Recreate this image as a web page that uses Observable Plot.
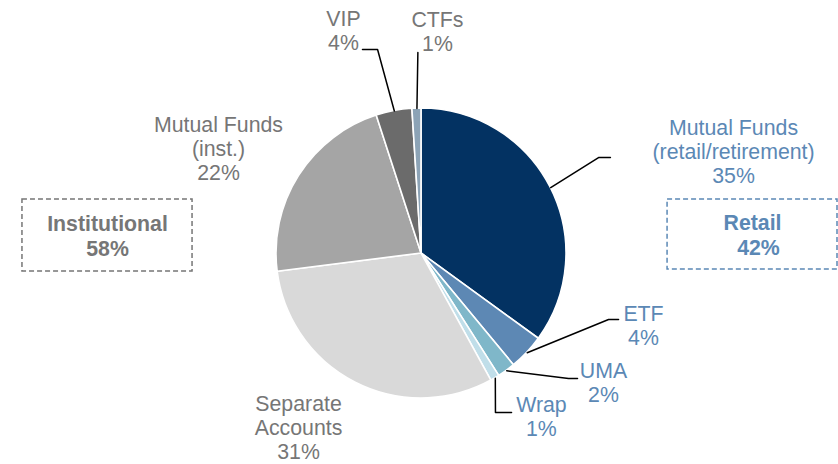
<!DOCTYPE html>
<html>
<head>
<meta charset="utf-8">
<script src="https://cdn.jsdelivr.net/npm/d3@7"></script>
<script src="https://cdn.jsdelivr.net/npm/@observablehq/plot@0.6"></script>
<style>
  html, body { margin: 0; padding: 0; background: #fff; }
  #chart svg { display: block; }
</style>
</head>
<body>
<div id="chart"></div>
<script>
// ---- Data ----
const categories = ["Mutual Funds (retail/retirement)", "ETF", "UMA", "Wrap", "Separate Accounts", "Mutual Funds (inst.)", "VIP", "CTFs"];
const labelLines = ["Mutual Funds\n(retail/retirement)", "ETF", "UMA", "Wrap", "Separate\nAccounts", "Mutual Funds\n(inst.)", "VIP", "CTFs"];
const shares = [35, 4, 2, 1, 31, 22, 4, 1];
const segments = ["Retail", "Retail", "Retail", "Retail", "Institutional", "Institutional", "Institutional", "Institutional"];
const sliceColors = ["#033262", "#5d88b4", "#7fb7c9", "#c0dee9", "#d9d9d9", "#a5a5a5", "#6b6b6b", "#8ca3b6"];
const segmentNames = ["Institutional", "Retail"];
const segmentColors = ["#767676", "#5b88b5"];

// ---- Layout (in pie-radius units, centre of pie = 0,0) ----
const labelPos = [[2.152, 0.703], [1.531, -0.497], [1.255, -0.890], [0.827, -1.124], [-0.848, -1.200], [-1.400, 0.724], [-0.538, 1.538], [0.110, 1.531]];
// leader path after the point on the slice edge (null = no leader)
const leaderPath = [
  [[1.221, 0.662], [1.303, 0.662]],
  [[1.290, -0.455], [1.359, -0.455]],
  [[1.014, -0.862], [1.076, -0.862]],
  [[0.510, -1.097], [0.621, -1.097]],
  null,
  null,
  [[-0.303, 1.407], [-0.407, 1.407]],
  [[-0.025, 1.386]]
];
const boxPos = { Institutional: [-2.752, -1.579, 0.372, -0.124], Retail: [1.697, 2.869, 0.372, -0.110] };

const FONT = "'Liberation Sans', Arial, Helvetica, sans-serif";
const FS = 21.3;

// ---- Derived ----
const arcs = d3.pie().sort(null).value(d => d.share)(
  categories.map((c, i) => ({ category: c, share: shares[i], color: sliceColors[i], segment: segments[i], label: labelLines[i] + "\n" + shares[i] + "%" }))
);
const labels = arcs.map((a, i) => ({ ...a.data, x: labelPos[i][0], y: labelPos[i][1] }));
const leaders = [];
arcs.forEach((a, i) => {
  if (!leaderPath[i]) return;
  const mid = (a.startAngle + a.endAngle) / 2;
  leaders.push({ id: i, x: Math.sin(mid), y: Math.cos(mid) });
  leaderPath[i].forEach(p => leaders.push({ id: i, x: p[0], y: p[1] }));
});
const totals = segmentNames.map((s, i) => ({
  segment: s,
  color: segmentColors[i],
  total: d3.sum(shares.filter((v, j) => segments[j] === s)),
  x1: boxPos[s][0], x2: boxPos[s][1], y1: boxPos[s][2], y2: boxPos[s][3]
}));
totals.forEach(t => {
  t.text = t.segment === "Retail" ? t.segment + "\n\u00a0\u00a0" + t.total + "%" : t.segment + "\n" + t.total + "%";
});

const segColor = s => segmentColors[segmentNames.indexOf(s)];

// pie mark rendered through the plot's x/y scales
const pieMark = (index, scales) => {
  const cx = scales.x(0), cy = scales.y(0);
  const r = scales.x(1) - scales.x(0);
  const g = d3.create("svg:g").attr("transform", `translate(${cx},${cy})`);
  g.selectAll("path").data(arcs).join("path")
    .attr("d", d3.arc().innerRadius(0).outerRadius(r))
    .attr("fill", d => d.data.color)
    .attr("stroke", "#fff")
    .attr("stroke-width", 1.6)
    .attr("stroke-linejoin", "round");
  return g.node();
};

const W = 838, H = 464, R = 145, CX = 421, CY = 253;

const chart = Plot.plot({
  width: W,
  height: H,
  margin: 0,
  style: { fontFamily: FONT, background: "#fff" },
  x: { domain: [-CX / R, (W - CX) / R], axis: null },
  y: { domain: [-(H - CY) / R, CY / R], axis: null },
  marks: [
    pieMark,
    Plot.line(leaders, { x: "x", y: "y", z: "id", stroke: "#000", strokeWidth: 1.5 }),
    Plot.text(labels, {
      x: "x", y: "y", text: "label",
      fill: d => segColor(d.segment),
      fontSize: FS, lineHeight: 24 / FS,
      textAnchor: "middle", lineAnchor: "middle", fontFamily: FONT
    }),
    Plot.rect(totals, {
      x1: "x1", x2: "x2", y1: "y1", y2: "y2",
      fill: "none", stroke: "color", strokeWidth: 1.5, strokeDasharray: "5,3"
    }),
    Plot.text(totals, {
      x: d => (d.x1 + d.x2) / 2, y: d => (d.y1 + d.y2) / 2, text: "text",
      fill: "color", fontSize: FS, fontWeight: "bold", lineHeight: 25 / FS,
      textAnchor: "middle", lineAnchor: "middle", fontFamily: FONT
    })
  ]
});

document.getElementById("chart").appendChild(chart);
</script>
</body>
</html>
